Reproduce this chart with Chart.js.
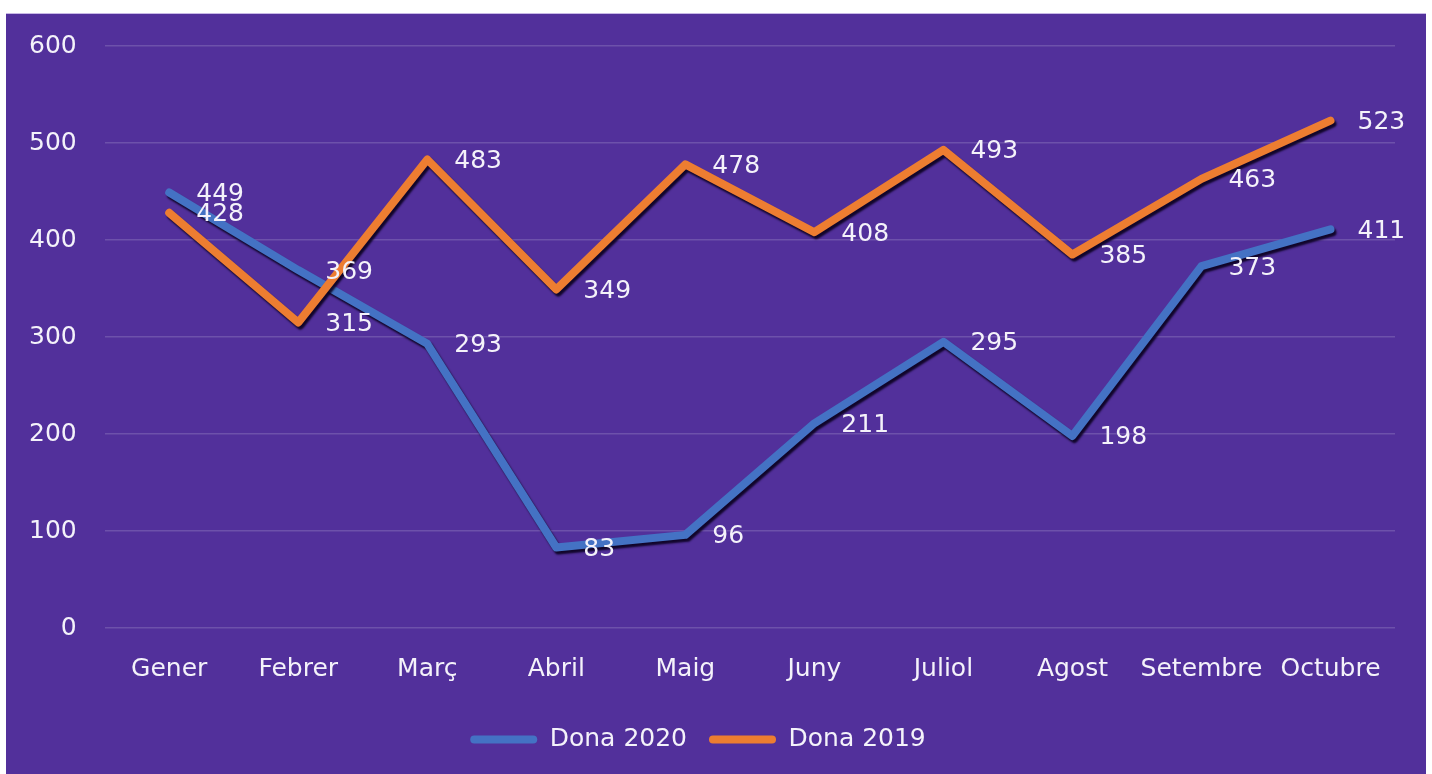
<!DOCTYPE html>
<html>
<head>
<meta charset="utf-8">
<script src="https://cdn.jsdelivr.net/npm/chart.js@4.4.0/dist/chart.umd.min.js"></script>
<style>
  html, body { margin: 0; padding: 0; background: #fff; }
  #wrap {
    position: absolute; left: 6px; top: 13px;
    width: 1420px; height: 761px;
    background: #52309b;
    border-top: 1px solid #c8b8e6;
    box-sizing: border-box;
  }
</style>
</head>
<body>
<div id="wrap"><canvas id="myChart"></canvas></div>
<script>
const months = ['Gener', 'Febrer', 'Març', 'Abril', 'Maig', 'Juny', 'Juliol', 'Agost', 'Setembre', 'Octubre']
const dona2020 = [449, 369, 293, 83, 96, 211, 295, 198, 373, 411]
const dona2019 = [428, 315, 483, 349, 478, 408, 493, 385, 463, 523]

const fontFam = '"DejaVu Sans", Verdana, sans-serif'
const txtColor = '#f4f2fa'

// dark drop shadow under the lines
const shadowPlugin = {
    id: 'lineShadow',
    beforeDatasetDraw(chart) {
        const ctx = chart.ctx
        ctx.save()
        ctx.shadowColor = 'rgba(10,0,30,0.9)'
        ctx.shadowOffsetX = 2
        ctx.shadowOffsetY = 3
        ctx.shadowBlur = 2
    },
    afterDatasetDraw(chart) {
        chart.ctx.restore()
    }
}

// value labels to the right of each point
const valueLabels = {
    id: 'valueLabels',
    afterDatasetsDraw(chart) {
        const ctx = chart.ctx
        ctx.save()
        ctx.font = '25px ' + fontFam
        ctx.fillStyle = txtColor
        ctx.textAlign = 'left'
        ctx.textBaseline = 'middle'
        chart.data.datasets.forEach((ds, i) => {
            const meta = chart.getDatasetMeta(i)
            meta.data.forEach((pt, j) => {
                ctx.fillText(ds.data[j], pt.x + 27, pt.y + 2)
            })
        })
        ctx.restore()
    }
}

let ctx = document.getElementById('myChart').getContext('2d');
let myChart = new Chart(ctx, {
    type: 'line',
    data: {
        labels: months,
        datasets: [{
            label: 'Dona 2020',
            data: dona2020,
            borderColor: '#4472c4',
            backgroundColor: '#4472c4',
            borderWidth: 8,
            order: 1
        }, {
            label: 'Dona 2019',
            data: dona2019,
            borderColor: '#ed7d31',
            backgroundColor: '#ed7d31',
            borderWidth: 8,
            order: 0
        }]
    },
    options: {
        responsive: true,
        maintainAspectRatio: false,
        animation: false,
        layout: {
            padding: { left: -5, right: 31, top: 0, bottom: 12 }
        },
        elements: {
            point: { radius: 0, hoverRadius: 0 },
            line: { tension: 0, borderCapStyle: 'round', borderJoinStyle: 'round' }
        },
        scales: {
            x: {
                offset: true,
                grid: { display: false },
                border: { display: false },
                ticks: {
                    color: txtColor,
                    font: { family: fontFam, size: 25 },
                    padding: 18,
                    maxRotation: 0,
                    autoSkip: false
                },
                afterFit(scale) {
                    scale.height += 3
                }
            },
            y: {
                min: 0,
                max: 600,
                grid: { color: 'rgba(255,255,255,0.16)', lineWidth: 1.5, drawTicks: false },
                border: { display: false },
                ticks: {
                    stepSize: 100,
                    color: txtColor,
                    font: { family: fontFam, size: 25 },
                    padding: 28
                },
                afterFit(scale) {
                    scale.paddingTop = 32
                    scale.paddingBottom = 15
                }
            }
        },
        plugins: {
            tooltip: { enabled: false },
            legend: {
                position: 'bottom',
                labels: {
                    color: txtColor,
                    font: { family: fontFam, size: 25 },
                    boxWidth: 67,
                    boxHeight: 8,
                    useBorderRadius: true,
                    borderRadius: 4,
                    padding: 22,
                    sort: (a, b) => a.datasetIndex - b.datasetIndex,
                    generateLabels(chart) {
                        return chart.data.datasets.map((ds, i) => ({
                            text: ds.label,
                            fillStyle: ds.borderColor,
                            strokeStyle: ds.borderColor,
                            lineWidth: 0,
                            fontColor: txtColor,
                            datasetIndex: i,
                            borderRadius: 4
                        }))
                    }
                }
            }
        }
    },
    plugins: [shadowPlugin, valueLabels]
});
</script>
</body>
</html>
